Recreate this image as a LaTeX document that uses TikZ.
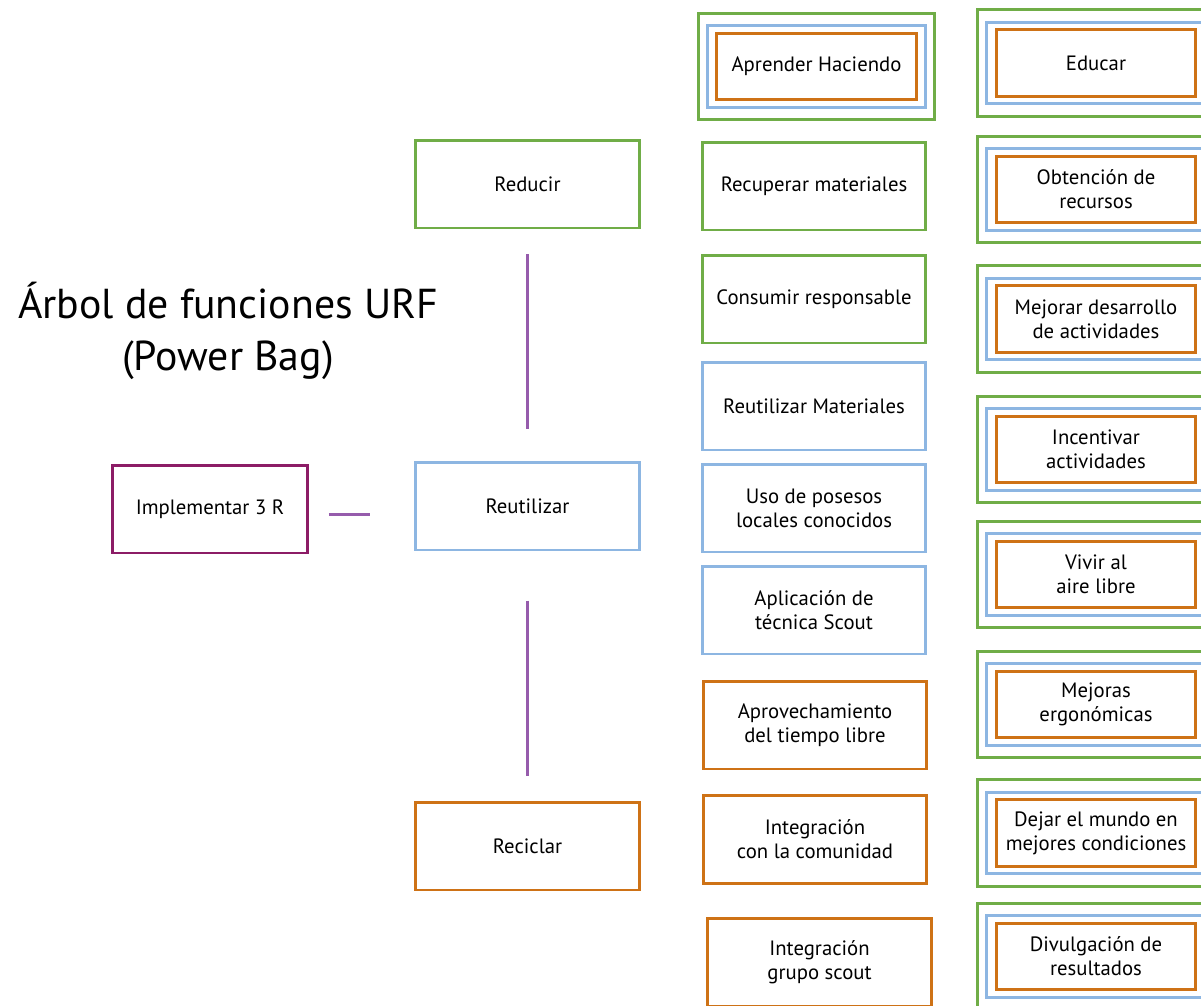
\documentclass[tikz,border=0pt]{standalone}
\usepackage{fontspec}
\setmainfont{PT Sans}
\usepackage{xcolor}
\usepackage{tikz}
\usetikzlibrary{fit,calc}

\definecolor{urfgreen}{RGB}{112,173,71}
\definecolor{urfblue}{RGB}{141,182,226}
\definecolor{urforange}{RGB}{206,114,22}
\definecolor{urfplum}{RGB}{140,28,102}
\definecolor{urflink}{RGB}{150,92,172}

\begin{document}
\begin{tikzpicture}[x=0.02cm, y=-0.02cm,
    box/.style={draw, line width=1.7pt, minimum width=4.48cm, minimum height=1.76cm, align=center, font=\fontsize{11.8}{13.6}\selectfont, inner sep=2pt},
    rgreen/.style={box, draw=urfgreen},
    rblue/.style={box, draw=urfblue},
    rorange/.style={box, draw=urforange},
    root/.style={box, draw=urfplum, minimum width=3.92cm},
    core/.style={draw=urforange, line width=1.7pt, minimum width=4cm, minimum height=1.33cm, align=center, font=\fontsize{11.8}{13.6}\selectfont, inner sep=2pt},
    ringb/.style={draw=urfblue, line width=1.7pt, inner xsep=4.5pt, inner ysep=3.5pt},
    ringg/.style={draw=urfgreen, line width=1.7pt, inner xsep=9.5pt, inner ysep=10.5pt},
    link/.style={draw=urflink, line width=1.7pt},
]
    \useasboundingbox (0,0) rectangle (1201,1005);

    \node[font=\fontsize{23.8}{30}\selectfont, align=center] (title) at (228,331) {Árbol de funciones URF\\(Power Bag)};

    % tres R
    \node[root]    (impl) at (210,509)   {Implementar 3 R};
    \node[rgreen]  (red)  at (527.5,184) {Reducir};
    \node[rblue]   (reu)  at (527.5,506) {Reutilizar};
    \node[rorange] (rec)  at (527.5,846) {Reciclar};

    % funciones
    \node[core]    (aprender) at (816.5,66.5) {Aprender Haciendo};
    \node[rgreen]  (recup)    at (814,186)    {Recuperar materiales};
    \node[rgreen]  (consu)    at (814,299)    {Consumir responsable};
    \node[rblue]   (reumat)   at (814,406)    {Reutilizar Materiales};
    \node[rblue]   (uso)      at (814,508)    {Uso de posesos\\locales conocidos};
    \node[rblue]   (aplic)    at (814,610)    {Aplicación de\\técnica Scout};
    \node[rorange] (aprov)    at (815,725)    {Aprovechamiento\\del tiempo libre};
    \node[rorange] (integc)   at (815,839.5)  {Integración\\con la comunidad};
    \node[rorange] (integg)   at (819.5,962)  {Integración\\grupo scout};

    % objetivos
    \node[core] (educar)  at (1096,63)    {Educar};
    \node[core] (obten)   at (1096,189.5) {Obtención de\\recursos};
    \node[core] (mejorar) at (1096,319)   {Mejorar desarrollo\\de actividades};
    \node[core] (incent)  at (1096,449.5) {Incentivar\\actividades};
    \node[core] (vivir)   at (1096,574.5) {Vivir al\\aire libre};
    \node[core] (ergo)    at (1096,704.5) {Mejoras\\ergonómicas};
    \node[core] (dejar)   at (1096,833)   {Dejar el mundo en\\mejores condiciones};
    \node[core] (divul)   at (1096,956.5) {Divulgación de\\resultados};

    \foreach \n in {aprender,educar,obten,mejorar,incent,vivir,ergo,dejar,divul} {
        \node[ringb, fit=(\n)] (\n-b) {};
        \node[ringg, fit=(\n)] (\n-g) {};
    }

    \draw[link, shorten <=11pt, shorten >=25pt] ([yshift=-3pt]impl.east) -- ([yshift=-3pt]impl.east -| reu.west);
    \draw[link, shorten <=14pt, shorten >=18pt] (red.south) -- (reu.north);
    \draw[link, shorten <=28pt, shorten >=14pt] (reu.south) -- (rec.north);
\end{tikzpicture}
\end{document}
